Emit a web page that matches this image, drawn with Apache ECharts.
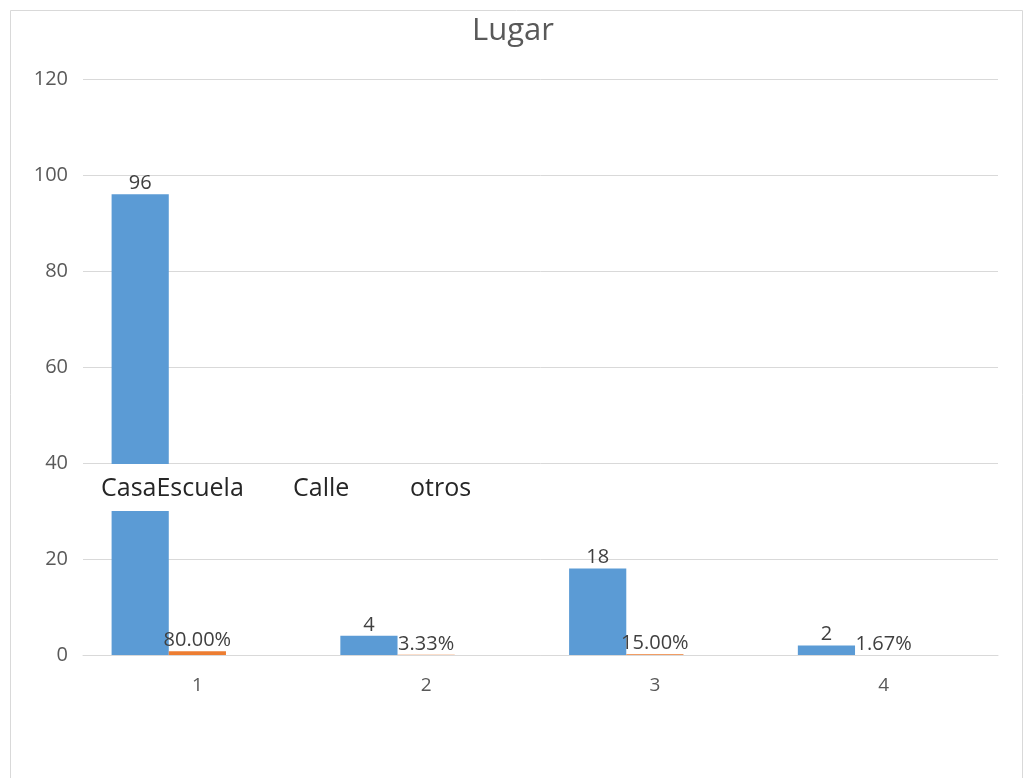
<!DOCTYPE html>
<html><head><meta charset="utf-8">
<script src="https://cdn.jsdelivr.net/npm/echarts@6/dist/echarts.min.js"></script>
<style>html,body{margin:0;padding:0;background:#fff}#c{width:1026px;height:778px}</style>
</head><body><div id="c"></div>
<script>
const titleText = "Lugar";
const categories = ["1", "2", "3", "4"];
const counts = [96, 4, 18, 2];
const percents = [0.80, 0.0333, 0.15, 0.0167];
const percentLabels = ["80.00%", "3.33%", "15.00%", "1.67%"];
const emptyThird = [0, 0, 0, 0];
const placeNames = ["Casa", "Escuela", "Calle", "otros"];
const yTicks = { min: 0, max: 120, interval: 20 };

const chart = echarts.init(document.getElementById('c'));
const font = '"Open Sans", sans-serif';
chart.setOption({
  animation: false,
  backgroundColor: '#fff',
  title: { text: titleText, left: 'center', top: 11, textStyle: { fontFamily: font, fontSize: 31, fontWeight: 'normal', color: '#595959' } },
  grid: { left: 83, right: 28, top: 79, bottom: 123 },
  xAxis: {
    type: 'category', data: categories,
    axisLine: { lineStyle: { color: '#d9d9d9' } }, axisTick: { show: false },
    axisLabel: { color: '#595959', fontFamily: font, fontSize: 19, margin: 21 }
  },
  yAxis: {
    type: 'value', min: yTicks.min, max: yTicks.max, interval: yTicks.interval,
    axisLine: { show: false }, axisTick: { show: false },
    splitLine: { lineStyle: { color: '#d9d9d9' } },
    axisLabel: { color: '#595959', fontFamily: font, fontSize: 20, margin: 15 }
  },
  series: [
    { type: 'bar', data: counts, barGap: '0%', barCategoryGap: '25%', itemStyle: { color: '#5B9BD5' },
      label: { show: true, position: 'top', distance: 1, color: '#404040', fontFamily: font, fontSize: 20 } },
    { type: 'bar', data: percents, itemStyle: { color: '#ED7D31' },
      label: { show: true, position: 'top', distance: 1, color: '#404040', fontFamily: font, fontSize: 20,
        formatter: p => percentLabels[p.dataIndex] } },
    { type: 'bar', data: emptyThird, itemStyle: { color: 'rgba(0,0,0,0)' } }
  ],
  graphic: [
    { type: 'rect', left: 8, top: 8, shape: { width: 1012, height: 790 }, style: { fill: 'none', stroke: '#d9d9d9', lineWidth: 1 }, silent: true },
    { type: 'rect', left: 83, top: 464, shape: { width: 915, height: 47 }, style: { fill: '#fff' }, z: 100 },
    { type: 'text', left: 101, top: 476, z: 101, style: { text: placeNames[0] + placeNames[1], fill: '#262626', font: '25px ' + font } },
    { type: 'text', left: 293, top: 476, z: 101, style: { text: placeNames[2], fill: '#262626', font: '25px ' + font } },
    { type: 'text', left: 410, top: 476, z: 101, style: { text: placeNames[3], fill: '#262626', font: '25px ' + font } }
  ]
});
</script></body></html>
